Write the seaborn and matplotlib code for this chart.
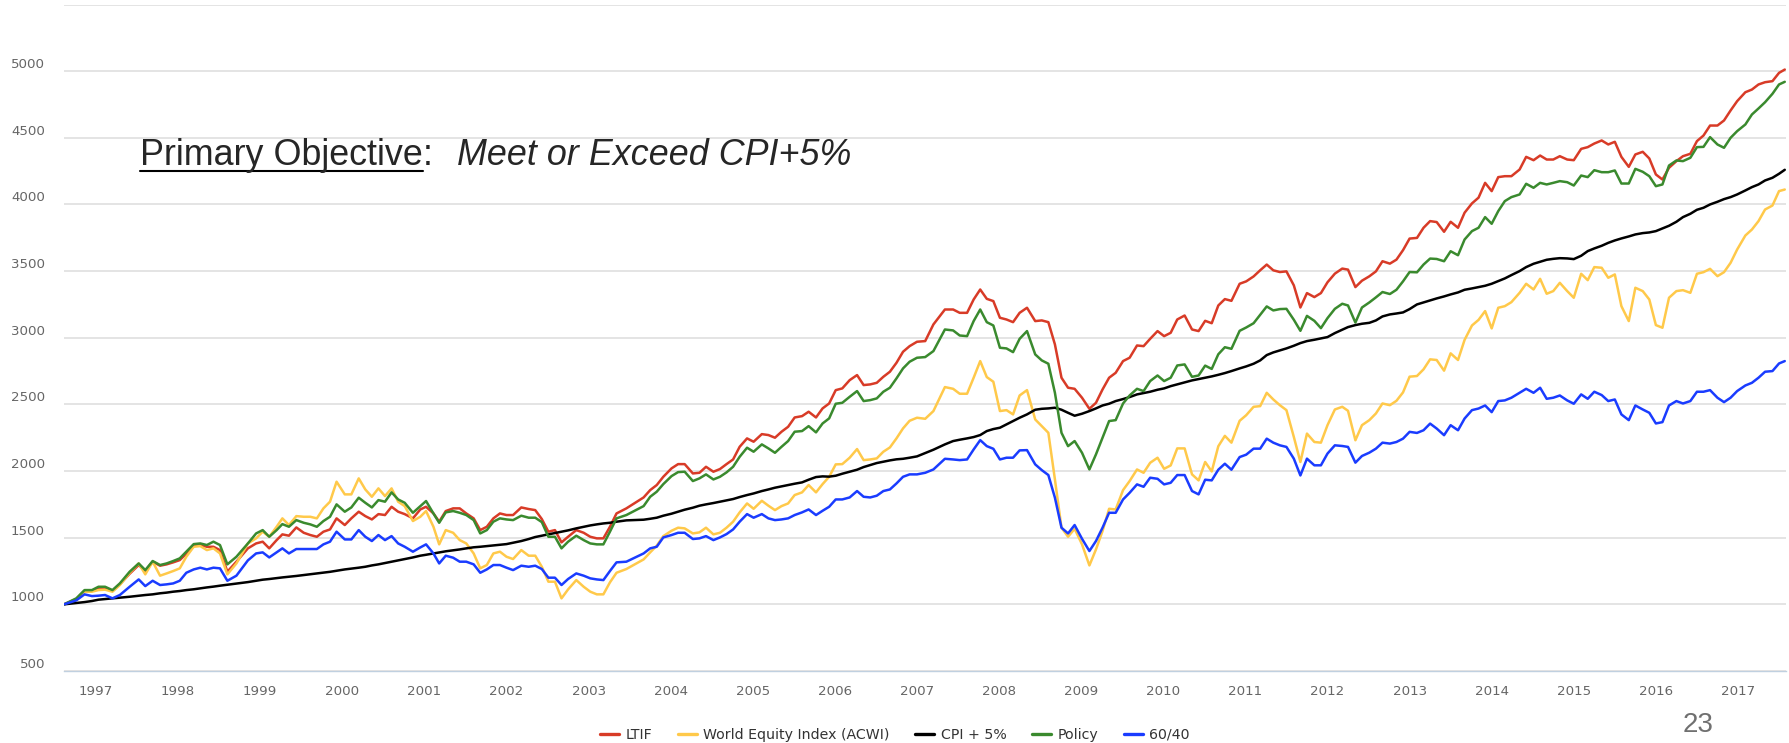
import pandas as pd
import numpy as np
import matplotlib
matplotlib.use("Agg")
import matplotlib.pyplot as plt
import seaborn as sns
from matplotlib.lines import Line2D

# growth of 1000, month-end values (decimal years)
years = [
    1996.61, 1996.76, 1996.86, 1996.95, 1997.03, 1997.11, 1997.20, 1997.29, 1997.41, 1997.52,
    1997.60, 1997.69, 1997.78, 1997.86, 1997.94, 1998.02, 1998.10, 1998.19, 1998.27, 1998.35,
    1998.43, 1998.51, 1998.60, 1998.71, 1998.85, 1998.95, 1999.03, 1999.11, 1999.20, 1999.27,
    1999.35, 1999.44, 1999.53, 1999.61, 1999.69, 1999.77, 1999.85, 1999.93,
    2000.03, 2000.11, 2000.20, 2000.28, 2000.36, 2000.44, 2000.52, 2000.60, 2000.68, 2000.76,
    2000.86, 2000.95, 2001.02, 2001.11, 2001.18, 2001.26, 2001.35, 2001.43, 2001.51, 2001.60,
    2001.68, 2001.76, 2001.84, 2001.92, 2002.00, 2002.08, 2002.18, 2002.27, 2002.35, 2002.43,
    2002.51, 2002.59, 2002.67, 2002.75, 2002.85, 2002.94, 2003.02, 2003.10, 2003.18, 2003.26,
    2003.34, 2003.46,
    2003.67, 2003.75, 2003.83, 2003.91, 2004.01, 2004.09, 2004.17, 2004.27, 2004.35, 2004.43,
    2004.52, 2004.60, 2004.68, 2004.76, 2004.84, 2004.93, 2005.01, 2005.11, 2005.19, 2005.27,
    2005.35, 2005.43, 2005.51, 2005.60, 2005.68, 2005.77, 2005.85, 2005.93, 2006.01, 2006.09,
    2006.18, 2006.27, 2006.35, 2006.43, 2006.51, 2006.59, 2006.67, 2006.75, 2006.83, 2006.91,
    2007.00,
    2007.10, 2007.20, 2007.34, 2007.44, 2007.52, 2007.61, 2007.69, 2007.77, 2007.85, 2007.93,
    2008.01, 2008.09, 2008.17, 2008.25, 2008.34, 2008.44, 2008.52, 2008.60, 2008.68, 2008.76,
    2008.84, 2008.92, 2009.01, 2009.10, 2009.18, 2009.26, 2009.34, 2009.42, 2009.51, 2009.59,
    2009.68, 2009.76, 2009.84, 2009.93, 2010.01, 2010.09, 2010.17, 2010.26, 2010.35, 2010.43,
    2010.51, 2010.59, 2010.67, 2010.75, 2010.83, 2010.93, 2011.01, 2011.10, 2011.18, 2011.26,
    2011.34, 2011.42, 2011.50, 2011.59, 2011.67, 2011.75, 2011.84, 2011.92, 2012.00, 2012.09,
    2012.18, 2012.25, 2012.34, 2012.42, 2012.51, 2012.59, 2012.67, 2012.76, 2012.84, 2012.92,
    2013.00, 2013.09, 2013.17, 2013.25, 2013.33, 2013.42, 2013.50, 2013.59, 2013.67, 2013.76,
    2013.84,
    2013.92, 2014.00, 2014.08, 2014.16, 2014.24, 2014.34, 2014.42, 2014.51, 2014.59, 2014.67,
    2014.75, 2014.83, 2014.92, 2015.00, 2015.09, 2015.17, 2015.25, 2015.34, 2015.42, 2015.50,
    2015.58, 2015.67, 2015.75, 2015.84, 2015.92, 2016.00, 2016.08, 2016.16, 2016.25, 2016.33,
    2016.42, 2016.50, 2016.58, 2016.66, 2016.75, 2016.83, 2016.91, 2016.99, 2017.09, 2017.17,
    2017.25, 2017.33, 2017.42, 2017.50, 2017.57,
]

ltif = [
    1000, 1040, 1100, 1100, 1125, 1125, 1100, 1150, 1230, 1295,
    1250, 1320, 1290, 1300, 1315, 1332, 1380, 1445, 1445, 1432,
    1432, 1407, 1245, 1320, 1420, 1457, 1470, 1420, 1482, 1525,
    1515, 1577, 1537, 1520, 1507, 1545, 1562, 1645,
    1595, 1645, 1695, 1662, 1637, 1677, 1670, 1732, 1695, 1677,
    1645, 1712, 1732, 1682, 1620, 1700, 1720, 1720, 1682, 1645,
    1557, 1582, 1645, 1682, 1670, 1670, 1727, 1715, 1707, 1640,
    1545, 1557, 1465, 1507, 1557, 1537, 1507, 1495, 1495, 1582,
    1682, 1720,
    1802, 1857, 1895, 1957, 2020, 2052, 2052, 1982, 1987, 2032,
    1995, 2015, 2052, 2087, 2182, 2245, 2220, 2277, 2270, 2250,
    2295, 2332, 2402, 2412, 2445, 2402, 2470, 2507, 2607, 2620,
    2682, 2720, 2645, 2650, 2662, 2707, 2745, 2812, 2895, 2937,
    2970,
    2975, 3100, 3212, 3212, 3187, 3187, 3287, 3362, 3292, 3275,
    3150, 3137, 3117, 3187, 3225, 3125, 3130, 3117, 2950, 2700,
    2625, 2617, 2550, 2467, 2512, 2612, 2700, 2737, 2825, 2850,
    2942, 2937, 2992, 3050, 3012, 3037, 3137, 3167, 3062, 3050,
    3127, 3109, 3242, 3290, 3277, 3405, 3423, 3460, 3506, 3549,
    3506, 3493, 3498, 3393, 3227, 3335, 3305, 3335, 3416, 3481,
    3519, 3511, 3380, 3428, 3461, 3498, 3574, 3556, 3586, 3657,
    3744, 3749, 3825, 3875, 3868, 3795, 3870, 3825, 3938, 4008,
    4051,
    4162, 4100, 4205, 4212, 4212, 4262, 4357, 4332, 4367, 4337,
    4337, 4362, 4337, 4332, 4417, 4430, 4457, 4480, 4450, 4470,
    4357, 4282, 4375, 4395, 4345, 4225, 4187, 4275, 4325, 4362,
    4380, 4475, 4517, 4592, 4592, 4630, 4705, 4775, 4842, 4862,
    4900, 4917, 4925, 4987, 5012,
]

acwi = [
    1000, 1032, 1095, 1095, 1107, 1110, 1095, 1145, 1237, 1307,
    1225, 1320, 1215, 1232, 1250, 1270, 1357, 1432, 1437, 1407,
    1420, 1382, 1225, 1307, 1457, 1495, 1545, 1507, 1582, 1645,
    1595, 1662, 1657, 1657, 1645, 1720, 1770, 1920,
    1825, 1825, 1945, 1862, 1807, 1870, 1812, 1870, 1770, 1737,
    1625, 1657, 1700, 1582, 1450, 1557, 1537, 1482, 1457, 1382,
    1270, 1295, 1382, 1395, 1357, 1340, 1407, 1365, 1365, 1282,
    1170, 1170, 1045, 1112, 1182, 1132, 1095, 1075, 1075, 1165,
    1237, 1265,
    1337, 1390, 1440, 1512, 1552, 1575, 1570, 1532, 1540, 1575,
    1525, 1537, 1575, 1620, 1690, 1757, 1717, 1777, 1740, 1707,
    1737, 1757, 1820, 1840, 1895, 1840, 1902, 1957, 2050, 2052,
    2100, 2165, 2082, 2087, 2095, 2145, 2177, 2245, 2320, 2377,
    2400,
    2392, 2450, 2630, 2617, 2580, 2580, 2700, 2825, 2705, 2670,
    2450, 2457, 2425, 2567, 2607, 2387, 2337, 2287, 1937, 1575,
    1507, 1567, 1450, 1292, 1412, 1550, 1717, 1712, 1857, 1925,
    2012, 1987, 2062, 2100, 2017, 2042, 2170, 2170, 1975, 1930,
    2068, 1997, 2186, 2264, 2213, 2377, 2419, 2482, 2487, 2587,
    2537, 2494, 2457, 2256, 2068, 2281, 2218, 2213, 2344, 2462,
    2482, 2452, 2231, 2344, 2382, 2432, 2507, 2494, 2527, 2590,
    2708, 2713, 2763, 2838, 2833, 2753, 2883, 2833, 2984, 3092,
    3134,
    3200, 3070, 3225, 3237, 3267, 3337, 3405, 3362, 3442, 3330,
    3350, 3412, 3350, 3300, 3480, 3432, 3530, 3525, 3450, 3475,
    3237, 3125, 3375, 3350, 3287, 3095, 3075, 3300, 3350, 3357,
    3337, 3480, 3492, 3517, 3462, 3492, 3562, 3662, 3767, 3812,
    3875, 3962, 3992, 4100, 4112,
]

cpi5 = [
    1000, 1010, 1017, 1025, 1035, 1040, 1045, 1050, 1057, 1065,
    1070, 1075, 1083, 1088, 1095, 1100, 1107, 1113, 1120, 1127,
    1133, 1140, 1147, 1155, 1167, 1177, 1185, 1190, 1197, 1202,
    1207, 1213, 1220, 1226, 1232, 1238, 1244, 1252,
    1262, 1268, 1275, 1282, 1292, 1300, 1310, 1320, 1330, 1340,
    1352, 1365, 1372, 1382, 1390, 1398, 1405, 1412, 1420, 1428,
    1432, 1437, 1442, 1447, 1452, 1462, 1475, 1490, 1505, 1515,
    1525, 1535, 1545, 1555, 1570, 1582, 1592, 1600, 1607, 1612,
    1620, 1630,
    1635, 1642, 1650, 1665, 1680, 1695, 1710, 1725, 1740, 1750,
    1760, 1770, 1780, 1790, 1805, 1820, 1832, 1850, 1862, 1875,
    1885, 1895, 1905, 1915, 1935, 1955, 1960, 1958, 1965, 1980,
    1995, 2010, 2030, 2045, 2060, 2070, 2080, 2088, 2092, 2100,
    2110,
    2135, 2160, 2200, 2225, 2235, 2245, 2255, 2270, 2300, 2315,
    2325, 2350, 2375, 2400, 2425, 2460, 2467, 2470, 2475, 2460,
    2437, 2415, 2430, 2450, 2470, 2492, 2505, 2525, 2540, 2555,
    2575, 2585, 2595, 2610, 2620, 2637, 2650, 2665, 2680, 2690,
    2700, 2710, 2722, 2735, 2750, 2770, 2785, 2805, 2830, 2870,
    2890, 2905, 2920, 2940, 2960, 2975, 2985, 2995, 3005, 3035,
    3060, 3080, 3095, 3105, 3112, 3130, 3160, 3175, 3182, 3190,
    3215, 3250, 3265, 3280, 3295, 3310, 3325, 3340, 3360, 3370,
    3380,
    3390, 3405, 3425, 3445, 3470, 3500, 3530, 3555, 3570, 3585,
    3592, 3597, 3595, 3590, 3615, 3650, 3670, 3690, 3712, 3730,
    3745, 3760, 3775, 3785, 3790, 3800, 3820, 3840, 3870, 3905,
    3930, 3960, 3975, 4000, 4020, 4040, 4055, 4075, 4105, 4130,
    4150, 4180, 4200, 4230, 4260,
]

policy = [
    1000, 1045, 1107, 1107, 1132, 1132, 1107, 1157, 1245, 1307,
    1257, 1325, 1295, 1307, 1325, 1345, 1395, 1452, 1457, 1445,
    1470, 1445, 1300, 1357, 1457, 1532, 1557, 1507, 1557, 1602,
    1582, 1632, 1612, 1600, 1582, 1625, 1657, 1750,
    1695, 1727, 1800, 1762, 1727, 1782, 1770, 1840, 1787, 1762,
    1687, 1737, 1775, 1682, 1612, 1690, 1700, 1687, 1670, 1632,
    1532, 1557, 1620, 1645, 1637, 1632, 1665, 1650, 1650, 1617,
    1507, 1507, 1420, 1470, 1515, 1482, 1457, 1450, 1450, 1545,
    1645, 1670,
    1737, 1807, 1845, 1902, 1962, 1992, 1995, 1925, 1945, 1975,
    1937, 1957, 1990, 2032, 2107, 2175, 2145, 2200, 2170, 2137,
    2182, 2225, 2295, 2300, 2337, 2290, 2357, 2395, 2505, 2512,
    2557, 2600, 2525, 2532, 2545, 2595, 2625, 2695, 2770, 2820,
    2850,
    2855, 2900, 3062, 3055, 3017, 3012, 3125, 3212, 3117, 3092,
    2925, 2920, 2892, 2992, 3050, 2875, 2830, 2805, 2587, 2287,
    2187, 2225, 2137, 2012, 2125, 2250, 2375, 2382, 2507, 2567,
    2617, 2600, 2675, 2717, 2675, 2700, 2792, 2800, 2707, 2717,
    2791, 2766, 2876, 2929, 2917, 3052, 3077, 3109, 3172, 3235,
    3205, 3215, 3217, 3135, 3052, 3164, 3127, 3072, 3147, 3217,
    3255, 3242, 3114, 3227, 3265, 3303, 3343, 3328, 3360, 3423,
    3493, 3491, 3549, 3594, 3591, 3574, 3649, 3619, 3737, 3800,
    3825,
    3905, 3855, 3950, 4025, 4055, 4075, 4155, 4125, 4162, 4150,
    4162, 4175, 4167, 4142, 4217, 4205, 4257, 4242, 4242, 4255,
    4157, 4157, 4267, 4245, 4212, 4137, 4150, 4292, 4330, 4325,
    4350, 4430, 4432, 4505, 4450, 4425, 4500, 4550, 4600, 4675,
    4720, 4767, 4830, 4900, 4920,
]

sixty_forty = [
    1000, 1030, 1075, 1062, 1065, 1070, 1045, 1070, 1132, 1187,
    1137, 1177, 1145, 1150, 1157, 1177, 1237, 1262, 1275, 1262,
    1275, 1270, 1177, 1215, 1330, 1382, 1390, 1352, 1390, 1420,
    1382, 1415, 1415, 1415, 1415, 1450, 1470, 1545,
    1487, 1487, 1557, 1507, 1475, 1520, 1482, 1512, 1457, 1432,
    1395, 1427, 1450, 1382, 1307, 1365, 1350, 1320, 1320, 1300,
    1237, 1262, 1295, 1295, 1275, 1257, 1290, 1282, 1290, 1265,
    1200, 1200, 1145, 1190, 1232, 1215, 1195, 1187, 1182, 1250,
    1315, 1320,
    1382, 1420, 1432, 1502, 1520, 1537, 1537, 1490, 1495, 1512,
    1482, 1502, 1527, 1562, 1620, 1677, 1650, 1677, 1645, 1632,
    1637, 1645, 1670, 1690, 1712, 1670, 1702, 1732, 1787, 1787,
    1802, 1850, 1807, 1802, 1815, 1850, 1862, 1907, 1957, 1975,
    1975,
    1987, 2012, 2092, 2087, 2082, 2087, 2162, 2232, 2187, 2167,
    2087, 2100, 2100, 2155, 2157, 2050, 2007, 1970, 1800, 1575,
    1532, 1595, 1492, 1400, 1475, 1575, 1687, 1687, 1787, 1837,
    1900, 1882, 1950, 1942, 1900, 1912, 1970, 1970, 1850, 1825,
    1935, 1930, 2010, 2055, 2010, 2105, 2123, 2168, 2168, 2243,
    2213, 2193, 2181, 2093, 1967, 2093, 2043, 2043, 2131, 2193,
    2188, 2181, 2063, 2113, 2138, 2168, 2213, 2206, 2218, 2243,
    2294, 2286, 2306, 2356, 2319, 2269, 2344, 2306, 2394, 2457,
    2469,
    2492, 2442, 2525, 2530, 2550, 2587, 2617, 2587, 2625, 2542,
    2550, 2567, 2530, 2505, 2575, 2542, 2595, 2570, 2525, 2537,
    2425, 2382, 2492, 2462, 2437, 2357, 2367, 2492, 2525, 2507,
    2525, 2595, 2595, 2607, 2550, 2517, 2550, 2600, 2642, 2662,
    2700, 2745, 2750, 2807, 2825,
]

series_names = ["LTIF", "World Equity Index (ACWI)", "CPI + 5%", "Policy", "60/40"]
series_values = [ltif, acwi, cpi5, policy, sixty_forty]
colors = ["#d83b27", "#ffc94a", "#000000", "#3a8a2e", "#1a3cff"]

year_ticks = list(range(1997, 2018))
value_ticks = list(range(500, 5501, 500))

for name, vals in zip(series_names, series_values):
    assert len(vals) == len(years), (name, len(vals), len(years))

frames = []
for name, vals in zip(series_names, series_values):
    frames.append(pd.DataFrame({"year": years, "value": vals, "series": name}))
df = pd.concat(frames, ignore_index=True)

sns.set_style("white")
plt.rcParams["font.family"] = ["DejaVu Sans"]

W, H = 1790, 743
fig = plt.figure(figsize=(W / 100, H / 100), dpi=100)
ax = fig.add_axes([64 / W, 1 - 671 / H, (1786 - 64) / W, (671 - 4.5) / H])

sns.lineplot(data=df, x="year", y="value", hue="series", hue_order=series_names,
             palette=dict(zip(series_names, colors)), linewidth=1.8,
             estimator=None, sort=False, ax=ax)

ax.set_xlim(1996.61, 2017.585)
ax.set_ylim(500, 5500)
ax.set_xlabel("")
ax.set_ylabel("")

ax.set_xticks(year_ticks)
ax.set_xticklabels([str(y) for y in year_ticks])
ax.set_yticks(value_ticks)
ax.set_yticklabels([str(v) if v < 5500 else "" for v in value_ticks])
for lab in ax.get_yticklabels():
    lab.set_va("bottom")

ax.tick_params(axis="y", length=0, pad=13.7, labelsize=9.6, labelcolor="#666666")
ax.tick_params(axis="x", length=6.5, width=0.8, color="#c0d0e0", pad=3.5,
               labelsize=9.6, labelcolor="#666666", direction="out")

ax.yaxis.grid(True, color="#dcdcdc", linewidth=1.1)
ax.xaxis.grid(False)
ax.set_axisbelow(True)
for side in ["top", "right", "left"]:
    ax.spines[side].set_visible(False)
ax.spines["bottom"].set_color("#c0d0e0")
ax.spines["bottom"].set_linewidth(1.0)
ax.spines["bottom"].set_zorder(0.5)

handles, labels = ax.get_legend_handles_labels()
for h in handles:
    h.set_linewidth(2.4)
ax.legend(handles, labels, loc="center", bbox_to_anchor=(0.5, 8 / H),
          bbox_transform=fig.transFigure, ncol=5, frameon=False, fontsize=10.2,
          handlelength=1.35, handletextpad=0.45, columnspacing=1.8,
          labelcolor="#333333")

# objective statement
t1 = fig.text(140 / W, 1 - 165 / H, "Primary Objective", fontsize=25.8,
              family="Liberation Sans", va="baseline", ha="left")
fig.canvas.draw()
r = fig.canvas.get_renderer()
bb = t1.get_window_extent(r)
fig.add_artist(Line2D([bb.x0 / W, bb.x1 / W], [1 - 171 / H, 1 - 171 / H],
                      transform=fig.transFigure, color="black", linewidth=1.5))
t2 = fig.text(bb.x1 / W, 1 - 165 / H, ":", fontsize=25.8,
              family="Liberation Sans", va="baseline", ha="left")
bb2 = t2.get_window_extent(r)
fig.text((bb2.x1 + 24) / W, 1 - 165 / H, "Meet or Exceed CPI+5%", fontsize=25.8,
         family="Liberation Sans", style="italic", va="baseline", ha="left")

fig.text(1698 / W, 1 - 725 / H, "23", fontsize=20, family="Liberation Sans",
         color="#707070", ha="center", va="center")

fig.savefig("out.png", dpi=100)
